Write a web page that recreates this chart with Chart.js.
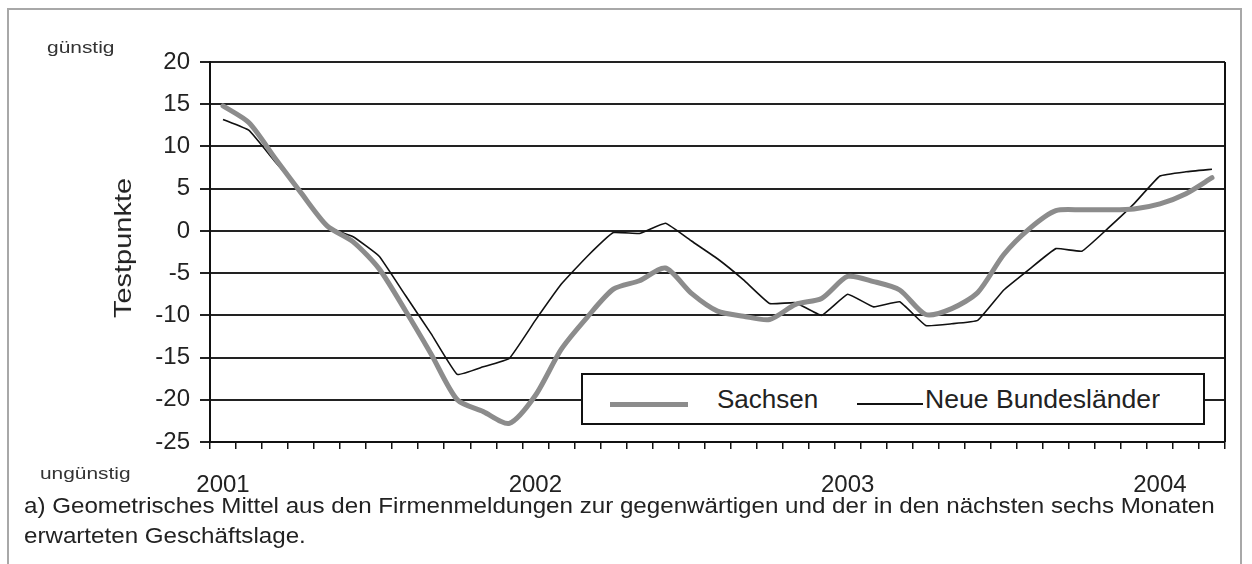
<!DOCTYPE html>
<html>
<head>
<meta charset="utf-8">
<script src="https://cdn.jsdelivr.net/npm/chart.js@4.4.0/dist/chart.umd.min.js"></script>
<style>
body { margin: 0; background: #fff; font-family: "Liberation Sans", Arial, sans-serif; color: #222; }
#wrap { position: relative; width: 1252px; height: 564px; overflow: hidden; }
#frame { position: absolute; left: 7px; top: 8px; width: 1231px; height: 620px; border: 2px solid #a8a8a8; border-bottom: none; }
#chartBox { position: absolute; left: 0; top: 0; width: 1252px; height: 564px; }
.txt { position: absolute; white-space: nowrap; line-height: 1; transform-origin: 0 0; }
#legend { position: absolute; left: 581px; top: 373px; width: 620px; height: 48px; border: 2px solid #111; background: #fff; }
.lg-line { position: absolute; }
</style>
</head>
<body>
<div id="wrap">
  <div id="frame"></div>
  <div id="chartBox"><canvas id="chart"></canvas></div>

  <span class="txt" id="good" style="left:47px;top:40px;font-size:16px;color:#333;">günstig</span>
  <span class="txt" id="bad" style="left:40px;top:466px;font-size:16px;color:#333;">ungünstig</span>
  <span class="txt" id="ytitle" style="font-size:24px;">Testpunkte</span>
  <span class="txt" id="note1" style="left:24px;top:495px;font-size:22px;">a) Geometrisches Mittel aus den Firmenmeldungen zur gegenwärtigen und der in den nächsten sechs Monaten</span>
  <span class="txt" id="note2" style="left:24px;top:525px;font-size:22px;">erwarteten Geschäftslage.</span>

  <div id="legend"></div>
</div>

<script>
// MONTHS (Jan 2001 - Mar 2004)
var months = [
  "01/2001", "02/2001", "03/2001", "04/2001", "05/2001", "06/2001", "07/2001", "08/2001", "09/2001", "10/2001", "11/2001", "12/2001",
  "01/2002", "02/2002", "03/2002", "04/2002", "05/2002", "06/2002", "07/2002", "08/2002", "09/2002", "10/2002", "11/2002", "12/2002",
  "01/2003", "02/2003", "03/2003", "04/2003", "05/2003", "06/2003", "07/2003", "08/2003", "09/2003", "10/2003", "11/2003", "12/2003",
  "01/2004", "02/2004", "03/2004"
];

// SERIES (Testpunkte)
var sachsen = [
  14.8, 12.8, 8.6, 4.5, 0.6, -1.3, -4.5, -9.4, -14.6, -20.0, -21.4, -22.8,
  -19.5, -14.0, -10.2, -6.9, -5.9, -4.4, -7.4, -9.5, -10.1, -10.5, -8.7, -8.0,
  -5.4, -6.0, -7.0, -9.9, -9.2, -7.3, -2.8, 0.3, 2.4, 2.5, 2.5, 2.6,
  3.2, 4.4, 6.3
];
var neueLaender = [
  13.2, 11.9, 8.2, 4.7, 0.5, -0.7, -3.0, -7.6, -12.2, -17.0, -16.1, -15.1,
  -10.6, -6.3, -3.0, -0.2, -0.3, 0.9, -1.2, -3.3, -5.8, -8.6, -8.5, -10.0,
  -7.5, -9.0, -8.4, -11.2, -11.0, -10.6, -7.0, -4.5, -2.1, -2.4, 0.3, 3.2,
  6.5, 7.0, 7.3
];
var seriesNames = ["Sachsen", "Neue Bundesländer"];
var seriesColors = ["#8c8c8c", "#111111"];
var seriesWidths = [5, 1.6];

// Y TICKS
var yMin = -25, yMax = 20, yStep = 5;

// PLOT FRAME PLUGIN
var framePlugin = {
  id: "frame",
  afterDraw: function (chart) {
    var a = chart.chartArea, ctx = chart.ctx;
    ctx.save();
    ctx.strokeStyle = "#111";
    ctx.lineWidth = 2;
    ctx.beginPath();
    ctx.moveTo(a.right, a.top);
    ctx.lineTo(a.right, a.bottom);
    ctx.stroke();
    ctx.restore();
  }
};

var config = {
  type: "line",
  data: {
    labels: months,
    datasets: [
      {
        label: seriesNames[0],
        data: sachsen,
        borderColor: seriesColors[0],
        borderWidth: seriesWidths[0],
        pointRadius: 0,
        tension: 0.25,
        borderJoinStyle: "round",
        borderCapStyle: "round"
      },
      {
        label: seriesNames[1],
        data: neueLaender,
        borderColor: seriesColors[1],
        borderWidth: seriesWidths[1],
        pointRadius: 0,
        tension: 0.1
      }
    ]
  },
  options: {
    responsive: true,
    maintainAspectRatio: false,
    animation: false,
    layout: { padding: { left: 0, right: 27, top: 62, bottom: 0 } },
    plugins: { legend: { display: false }, tooltip: { enabled: false } },
    scales: {
      x: {
        offset: true,
        afterFit: function (scale) { scale.height = 122; },
        grid: { offset: true, drawOnChartArea: false, drawTicks: true, tickLength: 7, color: "#111", lineWidth: 1.5 },
        border: { display: true, color: "#111", width: 2 },
        ticks: {
          autoSkip: false,
          maxRotation: 0,
          padding: 22,
          color: "#222",
          font: { family: "Liberation Sans", size: 24 },
          callback: function (val, i) {
            var m = months[i];
            return m.slice(0, 2) === "01" ? m.slice(3) : "";
          }
        }
      },
      y: {
        min: yMin,
        max: yMax,
        afterFit: function (scale) { scale.width = 210; },
        grid: { color: "#222", lineWidth: 2, tickLength: 10 },
        border: { display: true, color: "#111", width: 2 },
        ticks: {
          stepSize: yStep,
          padding: 10,
          color: "#222",
          font: { family: "Liberation Sans", size: 24 }
        }
      }
    }
  },
  plugins: [framePlugin]
};

// FIT TEXT WIDTHS
function fitText(id, width) {
  var el = document.getElementById(id);
  el.style.transform = "scaleX(" + (width / el.offsetWidth) + ")";
}

// LEGEND
function buildLegend() {
  var lg = document.getElementById("legend");
  var pos = [
    { x1: 27, x2: 105, tx: 134, w: 101 },
    { x1: 274, x2: 340, tx: 342, w: 235 }
  ];
  for (var i = 0; i < seriesNames.length; i++) {
    var p = pos[i];
    var ln = document.createElement("div");
    ln.className = "lg-line";
    ln.style.left = p.x1 + "px";
    ln.style.width = (p.x2 - p.x1) + "px";
    ln.style.height = seriesWidths[i] + "px";
    ln.style.top = (29 - seriesWidths[i] / 2) + "px";
    ln.style.background = seriesColors[i];
    lg.appendChild(ln);
    var t = document.createElement("span");
    t.className = "txt";
    t.style.left = p.tx + "px";
    t.style.top = "12px";
    t.style.fontSize = "25px";
    t.textContent = seriesNames[i];
    lg.appendChild(t);
    t.style.transform = "scaleX(" + (p.w / t.offsetWidth) + ")";
  }
}

window.onload = function () {
  var ctx = document.getElementById("chart").getContext("2d");
  window.myLine = new Chart(ctx, config);

  buildLegend();
  fitText("good", 68);
  fitText("bad", 90);
  fitText("note1", 1191);
  fitText("note2", 282);

  var yt = document.getElementById("ytitle");
  var k = 140 / yt.offsetWidth;
  yt.style.left = "123px";
  yt.style.top = "248px";
  yt.style.transformOrigin = "center center";
  yt.style.transform = "translate(-50%,-50%) rotate(-90deg) scaleX(" + k + ")";
};
</script>
</body>
</html>
